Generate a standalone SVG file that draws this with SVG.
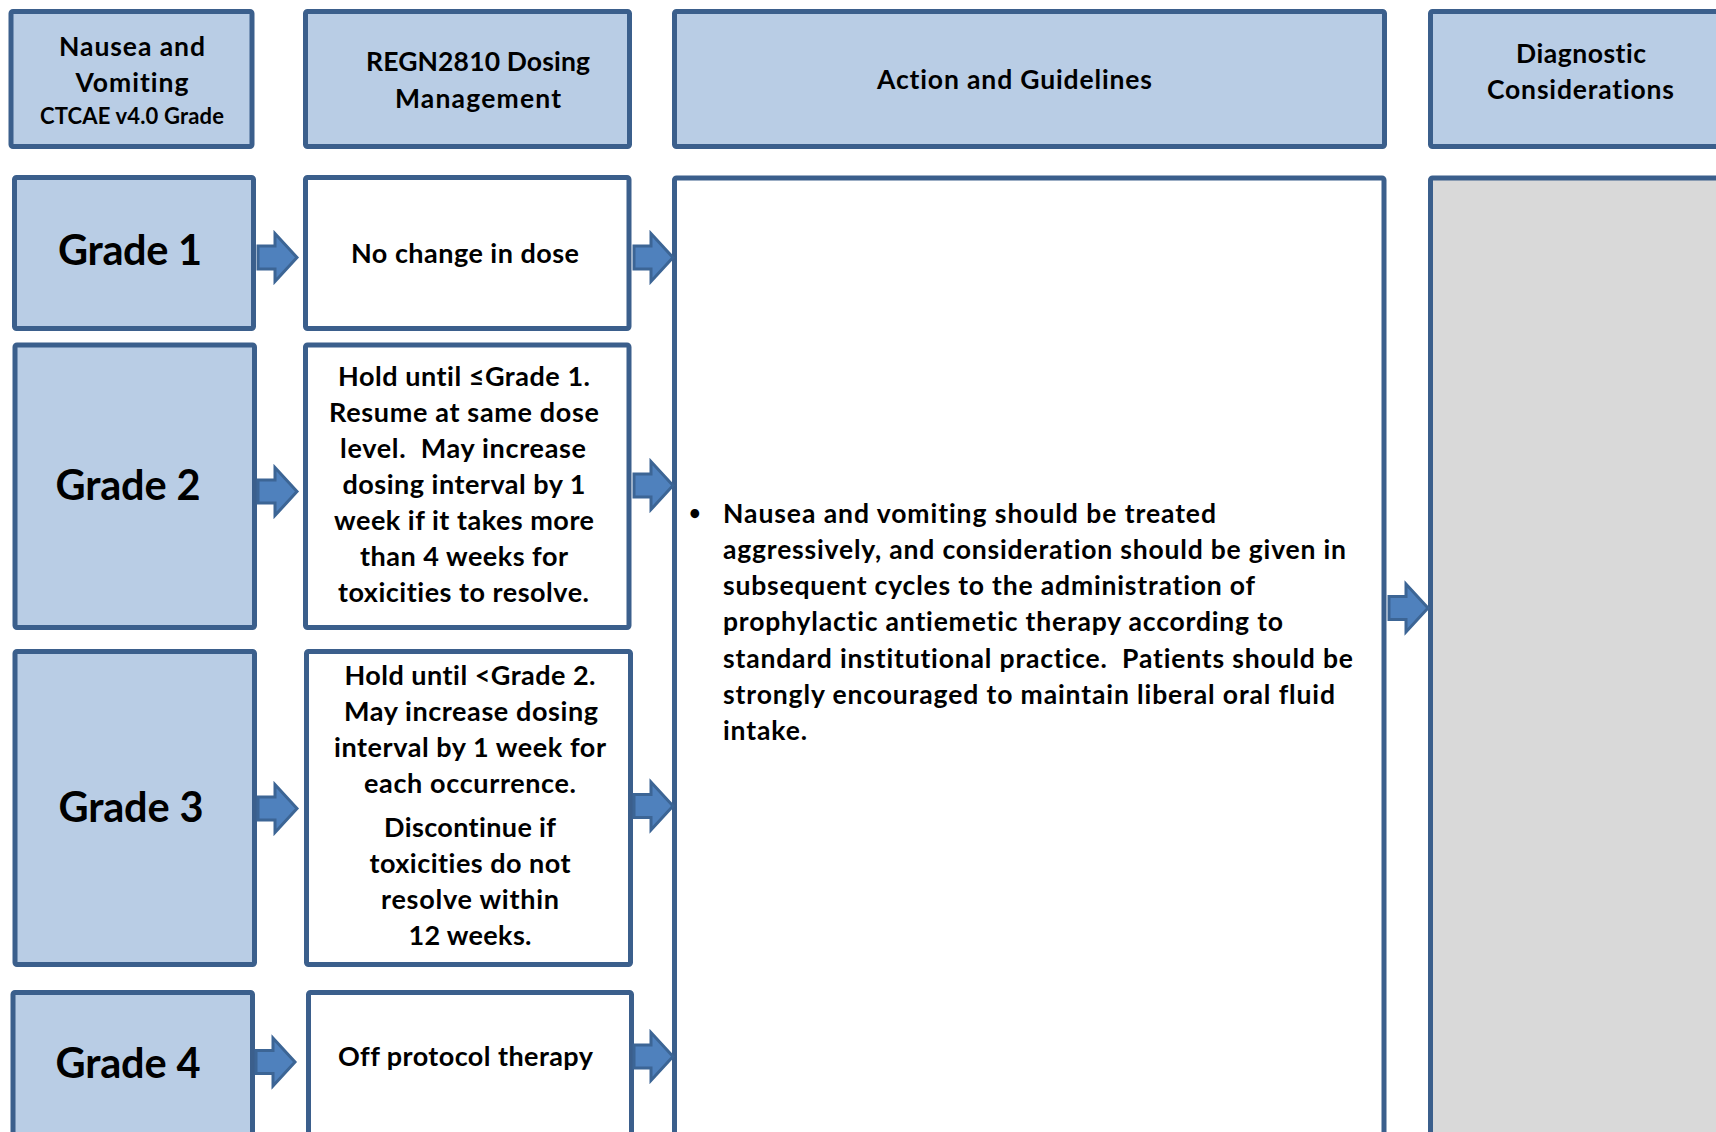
<svg xmlns="http://www.w3.org/2000/svg" width="1716" height="1132" viewBox="0 0 1716 1132">
  <style>
    .box { stroke: #3B5F8C; stroke-width: 5; }
    .head { fill: #B9CDE5; }
    .grade { fill: #B9CDE5; }
    .plain { fill: #FFFFFF; }
    .grey { fill: #D9D9D9; }
    text { font-family: Lato, "Liberation Sans", sans-serif; font-weight: bold; fill: #000000; text-anchor: middle; font-variant-ligatures: none; white-space: pre; }
    .t-head { font-size: 26.5px; }
    .t-small { font-size: 22px; }
    .t-grade { font-size: 41.5px; }
    .t-body { font-size: 27px; }
    .t-action { font-size: 26.5px; text-anchor: start; }
    .t-bullet { font-size: 20px; text-anchor: start; }
    .arrow { fill: #4F81BD; stroke: #3C6595; stroke-width: 3; stroke-linejoin: miter; }
  </style>
  <defs>
    <!-- block arrow, origin at its left end on the centre line -->
    <path id="blockArrow" d="M0 -11.5 H17 V-24 L39 0 L17 24 V11.5 H0 Z"/>
  </defs>

  <rect width="1716" height="1132" fill="#FFFFFF"/>

  <!-- column headers -->
  <g id="hdr-grade">
    <rect class="box head" x="11" y="11.5" width="241" height="135" rx="2"/>
    <text class="t-head" x="132" y="56" textLength="146">Nausea and</text>
    <text class="t-head" x="132" y="92" textLength="113">Vomiting</text>
    <text class="t-small" x="132" y="124" textLength="184">CTCAE v4.0 Grade</text>
  </g>
  <g id="hdr-dosing">
    <rect class="box head" x="305.5" y="11.5" width="324" height="135" rx="2"/>
    <text class="t-head" x="478" y="71" textLength="224">REGN2810 Dosing</text>
    <text class="t-head" x="478" y="108" textLength="166">Management</text>
  </g>
  <g id="hdr-action">
    <rect class="box head" x="674.5" y="11.5" width="710" height="135" rx="2"/>
    <text class="t-head" x="1014.5" y="89" textLength="275">Action and Guidelines</text>
  </g>
  <g id="hdr-diagnostic">
    <rect class="box head" x="1430.5" y="11.5" width="300" height="135" rx="2"/>
    <text class="t-head" x="1581" y="63" textLength="130">Diagnostic</text>
    <text class="t-head" x="1580.5" y="99" textLength="187">Considerations</text>
  </g>

  <!-- grade boxes -->
  <g id="grade-1">
    <rect class="box grade" x="14.5" y="177.5" width="239" height="151" rx="2"/>
    <text class="t-grade" x="130" y="265" textLength="144">Grade 1</text>
  </g>
  <g id="grade-2">
    <rect class="box grade" x="15" y="345" width="239.5" height="282.5" rx="2"/>
    <text class="t-grade" x="128" y="500" textLength="145">Grade 2</text>
  </g>
  <g id="grade-3">
    <rect class="box grade" x="15" y="651.5" width="239.5" height="313" rx="2"/>
    <text class="t-grade" x="131" y="822" textLength="145">Grade 3</text>
  </g>
  <g id="grade-4">
    <rect class="box grade" x="13" y="992.5" width="239.5" height="160" rx="2"/>
    <text class="t-grade" x="128" y="1078" textLength="145">Grade 4</text>
  </g>

  <!-- dosing boxes -->
  <g id="dose-1">
    <rect class="box plain" x="305.5" y="177.5" width="323.5" height="151" rx="2"/>
    <text class="t-body" x="465" y="263" textLength="228">No change in dose</text>
  </g>
  <g id="dose-2">
    <rect class="box plain" x="305.5" y="345" width="323.5" height="282.5" rx="2"/>
    <text class="t-body" x="464" y="386" textLength="252">Hold until ≤Grade 1.</text>
    <text class="t-body" x="464" y="422" textLength="270">Resume at same dose</text>
    <text class="t-body" x="463" y="458" textLength="246">level.  May increase</text>
    <text class="t-body" x="464" y="494" textLength="243">dosing interval by 1</text>
    <text class="t-body" x="464" y="530" textLength="260">week if it takes more</text>
    <text class="t-body" x="464" y="566" textLength="208">than 4 weeks for</text>
    <text class="t-body" x="463.5" y="602" textLength="251">toxicities to resolve.</text>
  </g>
  <g id="dose-3">
    <rect class="box plain" x="306.5" y="651.5" width="324" height="313" rx="2"/>
    <text class="t-body" x="470" y="685" textLength="251">Hold until &lt;Grade 2.</text>
    <text class="t-body" x="471" y="721" textLength="254">May increase dosing</text>
    <text class="t-body" x="470" y="757" textLength="272">interval by 1 week for</text>
    <text class="t-body" x="470" y="793" textLength="212">each occurrence.</text>
    <text class="t-body" x="470" y="837" textLength="172">Discontinue if</text>
    <text class="t-body" x="470" y="873" textLength="201">toxicities do not</text>
    <text class="t-body" x="470" y="909" textLength="178">resolve within</text>
    <text class="t-body" x="470" y="945" textLength="123">12 weeks.</text>
  </g>
  <g id="dose-4">
    <rect class="box plain" x="308.5" y="992.5" width="323" height="160" rx="2"/>
    <text class="t-body" x="465.5" y="1066" textLength="255">Off protocol therapy</text>
  </g>

  <!-- action and guidelines -->
  <g id="action">
    <rect class="box plain" x="674.5" y="178" width="709.5" height="975" rx="2"/>
    <text class="t-bullet" x="689" y="520">•</text>
    <text class="t-action" x="723" y="523" textLength="493">Nausea and vomiting should be treated</text>
    <text class="t-action" x="723" y="559" textLength="623">aggressively, and consideration should be given in</text>
    <text class="t-action" x="723" y="595" textLength="532">subsequent cycles to the administration of</text>
    <text class="t-action" x="723" y="631" textLength="560">prophylactic antiemetic therapy according to</text>
    <text class="t-action" x="723" y="668" textLength="630">standard institutional practice.  Patients should be</text>
    <text class="t-action" x="723" y="704" textLength="612">strongly encouraged to maintain liberal oral fluid</text>
    <text class="t-action" x="723" y="740" textLength="84">intake.</text>
  </g>

  <!-- diagnostic considerations -->
  <g id="diagnostic">
    <rect class="box grey" x="1430.5" y="178" width="300" height="975" rx="2"/>
  </g>

  <!-- connectors -->
  <g id="connectors">
    <use href="#blockArrow" class="arrow" x="258" y="257.5"/>
    <use href="#blockArrow" class="arrow" x="634" y="257.5"/>
    <use href="#blockArrow" class="arrow" x="258" y="491.5"/>
    <use href="#blockArrow" class="arrow" x="634" y="485.5"/>
    <use href="#blockArrow" class="arrow" x="258" y="808.5"/>
    <use href="#blockArrow" class="arrow" x="634" y="806"/>
    <use href="#blockArrow" class="arrow" x="256" y="1062"/>
    <use href="#blockArrow" class="arrow" x="634" y="1056.5"/>
    <use href="#blockArrow" class="arrow" x="1389" y="608"/>
  </g>
</svg>
